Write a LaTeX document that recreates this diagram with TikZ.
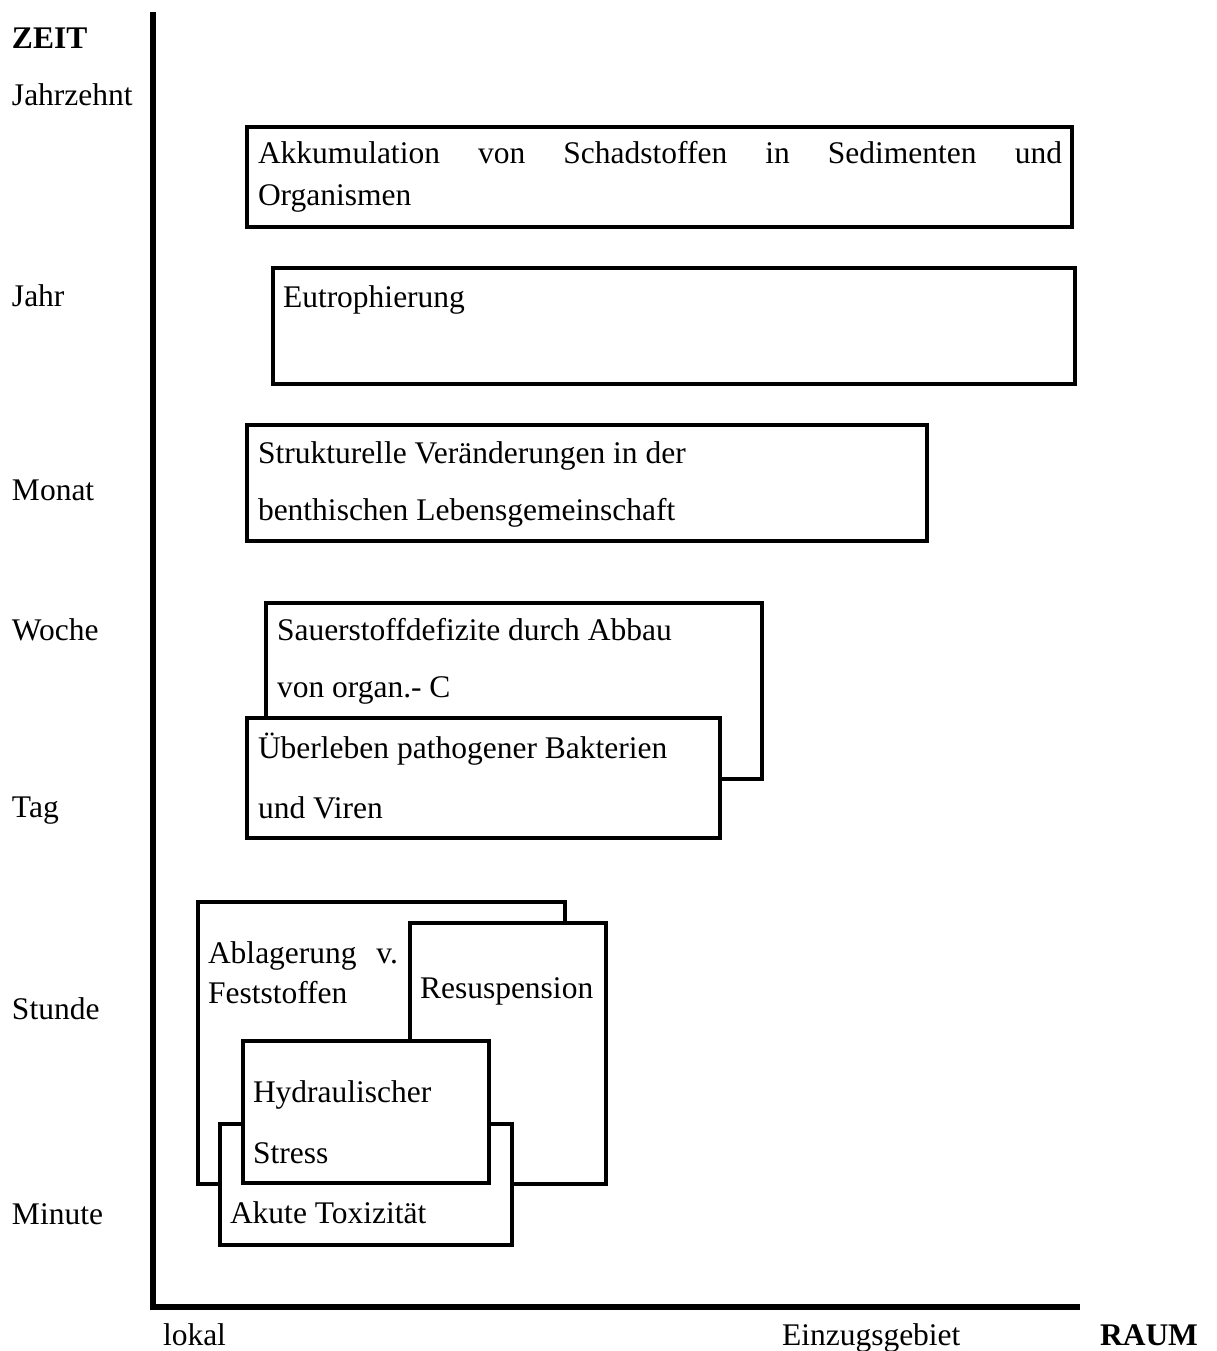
\documentclass[tikz,border=0pt]{standalone}
\usepackage{fontspec}
\setmainfont{Liberation Serif}
\begin{document}
\begin{tikzpicture}[x=1pt,y=-1pt,
  boxframe/.style={draw=black, line width=4pt, fill=white},
  axisline/.style={draw=black, line width=5.5pt},
  lbl/.style={anchor=base west, inner sep=0pt, outer sep=0pt, font=\fontsize{31.5}{38}\selectfont}]
\useasboundingbox (0,0) rectangle (1217,1351);

% axes
\coordinate (top) at (153,12);
\coordinate (origin) at (153,1307);
\coordinate (xend) at (1080,1307);
\draw[axisline] (top) -- (origin) -- (xend);

% axis labels
\node[lbl] (zeit) at (12,49) {\bfseries ZEIT};
\node[lbl] (jz) at (12,106) {Jahrzehnt};
\node[lbl] (jahr) at (12,306) {Jahr};
\node[lbl] (monat) at (12,500) {Monat};
\node[lbl] (woche) at (12,640) {Woche};
\node[lbl] (tag) at (12,817) {Tag};
\node[lbl] (stunde) at (12,1019) {Stunde};
\node[lbl] (minute) at (12,1224) {Minute};
\node[lbl] (lokal) at (163,1345) {lokal};
\node[lbl] (ezg) at (782,1345) {Einzugsgebiet};
\node[lbl] (raum) at (1100,1345) {\bfseries RAUM};

% Akkumulation
\path[boxframe] (247,127) rectangle (1072,227);
\node[lbl] (akk1) at (258,164) {\makebox[804pt][s]{Akkumulation\hfill von\hfill Schadstoffen\hfill in\hfill Sedimenten\hfill und}};
\node[lbl] (akk2) at (258,205) {Organismen};

% Eutrophierung
\path[boxframe] (273,268) rectangle (1075,384);
\node[lbl] (eut) at (283,307) {Eutrophierung};

% Strukturelle
\path[boxframe] (247,425) rectangle (927,541);
\node[lbl] (str1) at (258,463) {Strukturelle Veränderungen in der};
\node[lbl] (str2) at (258,520) {benthischen Lebensgemeinschaft};

% Sauerstoff
\path[boxframe] (266,603) rectangle (762,779);
\node[lbl] (sau1) at (277,640) {Sauerstoffdefizite durch Abbau};
\node[lbl] (sau2) at (277,697) {von organ.- C};

% Ueberleben
\path[boxframe] (247,718) rectangle (720,838);
\node[lbl] (ueb1) at (258,758) {Überleben pathogener Bakterien};
\node[lbl] (ueb2) at (258,818) {und Viren};

% Ablagerung
\path[boxframe] (198,902) rectangle (565,1184);
\node[lbl] (abl1) at (208,963) {\makebox[190pt][s]{Ablagerung\hfill v.}};
\node[lbl] (abl2) at (208,1003) {Feststoffen};

% Resuspension
\path[boxframe] (410,923) rectangle (606,1184);
\node[lbl] (res) at (420,998) {Resuspension};

% Akute Toxizitaet
\path[boxframe] (220,1124) rectangle (512,1245);
\node[lbl] (akut) at (230,1223) {Akute Toxizität};

% Hydraulischer Stress
\path[boxframe] (243,1041) rectangle (489,1183);
\node[lbl] (hyd1) at (253,1102) {Hydraulischer};
\node[lbl] (hyd2) at (253,1163) {Stress};
\end{tikzpicture}
\end{document}
